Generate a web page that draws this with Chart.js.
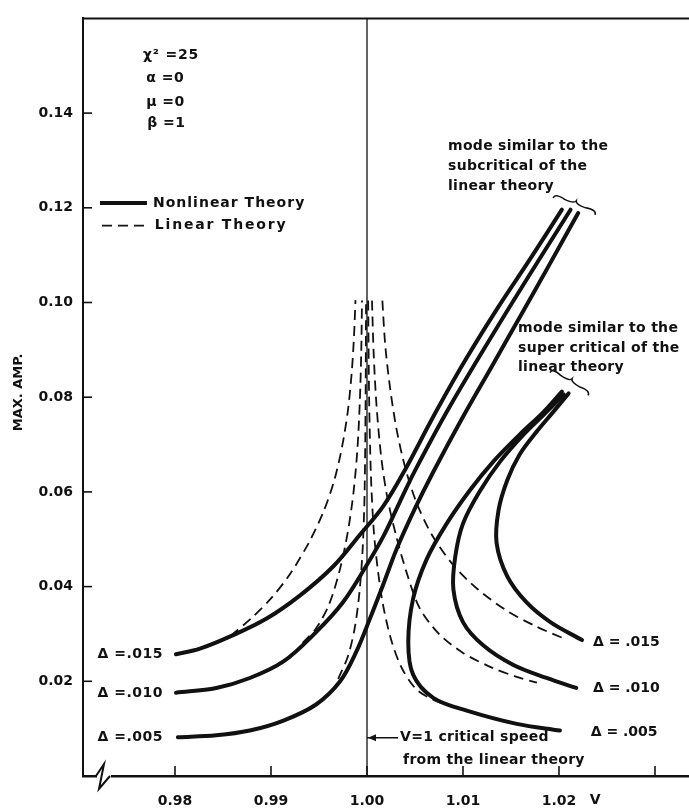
<!DOCTYPE html>
<html>
<head>
<meta charset="utf-8">
<script src="https://cdn.jsdelivr.net/npm/chart.js@4.4.1/dist/chart.umd.min.js"></script>
<style>
  html, body { margin: 0; padding: 0; background: #fff; }
</style>
</head>
<body>
<canvas id="amp-chart" width="689" height="811"></canvas>
<script>
// axis ticks
const xTickValues = [0.98, 0.99, 1.00, 1.01, 1.02, 1.03];
const xTickLabels = ['0.98', '0.99', '1.00', '1.01', '1.02', ''];
const yTickValues = [0, 0.02, 0.04, 0.06, 0.08, 0.10, 0.12, 0.14, 0.16];
const yTickLabels = ['', '0.02', '0.04', '0.06', '0.08', '0.10', '0.12', '0.14', ''];

// nonlinear theory, subcritical-like branch  [V, max amp]
const sub015 = [[0.9801, 0.0257], [0.9826, 0.0269], [0.9860, 0.0297], [0.9895, 0.0332], [0.9930, 0.0381], [0.9965, 0.0443], [0.9992, 0.0508], [1.0017, 0.0570], [1.0040, 0.0648], [1.0068, 0.0755], [1.0100, 0.0870], [1.0135, 0.0985], [1.0170, 0.1092], [1.0203, 0.1196]];
const sub010 = [[0.9801, 0.0176], [0.9843, 0.0186], [0.9878, 0.0207], [0.9913, 0.0242], [0.9947, 0.0304], [0.9975, 0.0367], [0.9999, 0.0443], [1.0017, 0.0506], [1.0034, 0.0578], [1.0050, 0.0645], [1.0087, 0.0783], [1.0149, 0.0992], [1.0212, 0.1196]];
const sub005 = [[0.9803, 0.0082], [0.9843, 0.0086], [0.9878, 0.0096], [0.9913, 0.0117], [0.9947, 0.0151], [0.9972, 0.0200], [0.9989, 0.0263], [1.0003, 0.0332], [1.0017, 0.0405], [1.0031, 0.0480], [1.0050, 0.0565], [1.0069, 0.0642], [1.0099, 0.0755], [1.0130, 0.0865], [1.0160, 0.0972], [1.0190, 0.1080], [1.0220, 0.1189]];

// nonlinear theory, supercritical-like branch
const sup015 = [[1.0224, 0.0287], [1.0191, 0.0325], [1.0166, 0.0367], [1.0146, 0.0422], [1.0135, 0.0492], [1.0137, 0.0561], [1.0146, 0.0624], [1.0159, 0.0679], [1.0177, 0.0728], [1.0194, 0.0769], [1.0210, 0.0808]];
const sup010 = [[1.0218, 0.0186], [1.0187, 0.0207], [1.0152, 0.0235], [1.0121, 0.0276], [1.0100, 0.0325], [1.0090, 0.0394], [1.0092, 0.0464], [1.0100, 0.0533], [1.0118, 0.0603], [1.0139, 0.0665], [1.0163, 0.0721], [1.0184, 0.0763], [1.0205, 0.0806]];
const sup005 = [[1.0201, 0.0096], [1.0156, 0.0110], [1.0104, 0.0138], [1.0069, 0.0165], [1.0048, 0.0214], [1.0043, 0.0283], [1.0048, 0.0374], [1.0062, 0.0457], [1.0083, 0.0533], [1.0107, 0.0603], [1.0132, 0.0665], [1.0159, 0.0721], [1.0184, 0.0769], [1.0203, 0.0812]];

// linear theory (dashed), left and right of V = 1
const lin015L = [[0.9858, 0.0296], [0.9880, 0.0334], [0.9900, 0.0375], [0.9920, 0.0427], [0.9940, 0.0495], [0.9955, 0.0560], [0.9966, 0.0625], [0.9974, 0.0695], [0.9980, 0.0770], [0.9984, 0.0850], [0.99865, 0.0930], [0.99880, 0.1005]];
const lin010L = [[0.9933, 0.0281], [0.9947, 0.0312], [0.9960, 0.0360], [0.9971, 0.0430], [0.9980, 0.0515], [0.9986, 0.0600], [0.9990, 0.0690], [0.99925, 0.0790], [0.99940, 0.0895], [0.99948, 0.1004]];
const lin005L = [[0.9970, 0.0205], [0.9980, 0.0252], [0.9987, 0.0310], [0.9992, 0.0385], [0.99955, 0.0480], [0.99975, 0.0600], [0.99985, 0.0780], [0.99990, 0.1004]];
const lin005R = [[1.00012, 0.1004], [1.00022, 0.0800], [1.00040, 0.0640], [1.00070, 0.0520], [1.0011, 0.0440], [1.0017, 0.0358], [1.0026, 0.0282], [1.0037, 0.0225], [1.0052, 0.0182], [1.0070, 0.0160], [1.0090, 0.0146], [1.0108, 0.0136]];
const lin010R = [[1.00052, 0.1004], [1.0007, 0.0890], [1.0010, 0.0780], [1.0015, 0.0670], [1.0021, 0.0590], [1.0030, 0.0510], [1.0042, 0.0425], [1.0055, 0.0354], [1.0075, 0.0300], [1.0100, 0.0260], [1.0130, 0.0229], [1.0155, 0.0210], [1.0177, 0.0197]];
const lin015R = [[1.0016, 0.1004], [1.0019, 0.0910], [1.0024, 0.0820], [1.0031, 0.0730], [1.0040, 0.0650], [1.0052, 0.0575], [1.0068, 0.0508], [1.0090, 0.0445], [1.0115, 0.0395], [1.0145, 0.0350], [1.0175, 0.0317], [1.0208, 0.0288]];

// critical speed from the linear theory
const criticalLine = [[1.0, 0], [1.0, 0.16]];

const INK = '#111';
const FONT = '"DejaVu Sans", sans-serif';
const toXY = arr => arr.map(([x, y]) => ({ x, y }));

const solid = data => ({
    data: toXY(data), showLine: true, borderColor: INK, borderWidth: 4,
    pointRadius: 0, tension: 0.35, borderCapStyle: 'round', borderJoinStyle: 'round'
});
const dashed = data => ({
    data: toXY(data), showLine: true, borderColor: INK, borderWidth: 1.8,
    borderDash: [10, 6], pointRadius: 0, tension: 0.3
});

function drawBrace(ctx, x1, y1, x2, y2, h) {
    // curly brace from (x1,y1) to (x2,y2) bulging to the left of the direction
    const dx = x2 - x1, dy = y2 - y1, len = Math.hypot(dx, dy);
    const nx = dy / len * h, ny = -dx / len * h;
    const mx = (x1 + x2) / 2, my = (y1 + y2) / 2;
    ctx.beginPath();
    ctx.moveTo(x1, y1);
    ctx.quadraticCurveTo(x1 + nx * 0.9, y1 + ny * 0.9, x1 + dx * 0.25 + nx * 0.5, y1 + dy * 0.25 + ny * 0.5);
    ctx.quadraticCurveTo(mx - dx * 0.02 + nx * 0.4, my - dy * 0.02 + ny * 0.4, mx + nx, my + ny);
    ctx.quadraticCurveTo(mx + dx * 0.02 + nx * 0.4, my + dy * 0.02 + ny * 0.4, x2 - dx * 0.25 + nx * 0.5, y2 - dy * 0.25 + ny * 0.5);
    ctx.quadraticCurveTo(x2 + nx * 0.9, y2 + ny * 0.9, x2, y2);
    ctx.stroke();
}

const notesPlugin = {
    id: 'notes',
    afterDraw(chart) {
        const { ctx, chartArea: area, scales: { x, y } } = chart;
        const X = v => x.getPixelForValue(v);
        const Y = a => y.getPixelForValue(a);
        ctx.save();
        ctx.strokeStyle = INK;
        ctx.fillStyle = INK;

        // top frame
        ctx.lineWidth = 2;
        ctx.beginPath();
        ctx.moveTo(area.left - 1, area.top);
        ctx.lineTo(area.right, area.top);
        ctx.stroke();

        // inward tick marks
        ctx.lineWidth = 1.6;
        xTickValues.forEach(v => {
            ctx.beginPath();
            ctx.moveTo(X(v), area.bottom);
            ctx.lineTo(X(v), area.bottom - 10);
            ctx.stroke();
        });
        yTickValues.slice(1, -1).forEach(v => {
            ctx.beginPath();
            ctx.moveTo(area.left, Y(v));
            ctx.lineTo(area.left + 9, Y(v));
            ctx.stroke();
        });

        // axis break on the V axis
        ctx.fillStyle = '#fff';
        ctx.fillRect(area.left + 14, area.bottom - 3, 14, 6);
        ctx.fillStyle = INK;
        ctx.lineWidth = 2;
        ctx.beginPath();
        ctx.moveTo(area.left + 13, area.bottom);
        ctx.lineTo(area.left + 21, area.bottom - 12);
        ctx.lineTo(area.left + 16, area.bottom + 13);
        ctx.lineTo(area.left + 27, area.bottom);
        ctx.stroke();

        ctx.textBaseline = 'middle';
        const text = (str, v, a, align = 'left', size = 14, spacing = '0px') => {
            ctx.font = 'bold ' + size + 'px ' + FONT;
            ctx.letterSpacing = spacing;
            ctx.textAlign = align;
            ctx.fillText(str, X(v), Y(a));
        };

        // parameters
        text('χ² =25', 0.97667, 0.1523, 'left', 14, '0.8px');
        text('α =0', 0.97700, 0.1473, 'left', 14, '0.5px');
        text('μ =0', 0.97700, 0.1423, 'left', 14, '0.5px');
        text('β =1', 0.97710, 0.1379, 'left', 14, '0.5px');

        // legend
        ctx.lineWidth = 4;
        ctx.beginPath();
        ctx.moveTo(X(0.97219), Y(0.12104));
        ctx.lineTo(X(0.97708), Y(0.12104));
        ctx.stroke();
        ctx.lineWidth = 1.8;
        ctx.setLineDash([10, 6]);
        ctx.beginPath();
        ctx.moveTo(X(0.97240), Y(0.11625));
        ctx.lineTo(X(0.97708), Y(0.11625));
        ctx.stroke();
        ctx.setLineDash([]);
        text('Nonlinear Theory', 0.97771, 0.12104, 'left', 14, '1px');
        text('Linear Theory', 0.97790, 0.11625, 'left', 14, '1.8px');

        // mode notes and braces
        text('mode similar to the', 1.00844, 0.1329, 'left', 14, '0.3px');
        text('subcritical of the', 1.00844, 0.1288, 'left', 14, '0.3px');
        text('linear theory', 1.00844, 0.1246, 'left', 14, '0.3px');
        text('mode similar to the', 1.01573, 0.0946, 'left', 14, '0.3px');
        text('super critical of the', 1.01573, 0.0904, 'left', 14, '0.3px');
        text('linear theory', 1.01573, 0.0863, 'left', 14, '0.3px');
        ctx.lineWidth = 1.5;
        drawBrace(ctx, X(1.01938), Y(0.1221), X(1.02375), Y(0.1185), 6);
        drawBrace(ctx, X(1.01906), Y(0.0852), X(1.02302), Y(0.0804), 6);

        // delta labels
        text('Δ =.015', 0.97875, 0.0256, 'right', 14, '0.5px');
        text('Δ =.010', 0.97875, 0.0175, 'right', 14, '0.5px');
        text('Δ =.005', 0.97875, 0.0081, 'right', 14, '0.5px');
        text('Δ = .015', 1.02354, 0.0283);
        text('Δ = .010', 1.02354, 0.0185);
        text('Δ = .005', 1.02330, 0.0092);

        // critical speed note
        ctx.lineWidth = 1.5;
        ctx.beginPath();
        ctx.moveTo(X(1.00323), Y(0.0081));
        ctx.lineTo(X(1.0), Y(0.0081));
        ctx.stroke();
        ctx.beginPath();
        ctx.moveTo(X(1.0) + 1, Y(0.0081));
        ctx.lineTo(X(1.0) + 9, Y(0.0081) - 3.5);
        ctx.lineTo(X(1.0) + 9, Y(0.0081) + 3.5);
        ctx.closePath();
        ctx.fill();
        text('V=1 critical speed', 1.00344, 0.0081, 'left', 14, '0.3px');
        text('from the linear theory', 1.00375, 0.0033, 'left', 14, '0.3px');

        // axis names
        ctx.font = 'bold 14px ' + FONT;
        ctx.letterSpacing = '0px';
        ctx.textAlign = 'left';
        ctx.fillText('V', X(1.0232), area.bottom + 24);
        ctx.save();
        ctx.translate(19, Y(0.081));
        ctx.rotate(-Math.PI / 2);
        ctx.textAlign = 'center';
        ctx.font = 'bold 13px ' + FONT;
        ctx.fillText('MAX. AMP.', 0, 0);
        ctx.restore();

        ctx.restore();
    }
};

new Chart(document.getElementById('amp-chart').getContext('2d'), {
    type: 'scatter',
    data: {
        datasets: [
            dashed(lin015L), dashed(lin010L), dashed(lin005L),
            dashed(lin005R), dashed(lin010R), dashed(lin015R),
            { data: toXY(criticalLine), showLine: true, borderColor: INK, borderWidth: 1.3, pointRadius: 0 },
            solid(sub015), solid(sub010), solid(sub005),
            solid(sup015), solid(sup010), solid(sup005)
        ]
    },
    options: {
        responsive: false,
        animation: false,
        layout: { padding: { top: 8, right: 0, bottom: 0, left: 0 } },
        plugins: { legend: { display: false }, tooltip: { enabled: false } },
        scales: {
            x: {
                type: 'linear',
                min: 0.970417,
                max: 1.033542,
                afterFit: s => { s.height = 35; },
                afterBuildTicks: s => { s.ticks = xTickValues.map(v => ({ value: v })); },
                grid: { display: false, drawTicks: false },
                border: { display: true, color: INK, width: 2.5 },
                ticks: {
                    padding: 17, color: INK, maxRotation: 0, autoSkip: false,
                    font: { family: FONT, size: 14, weight: 'bold' },
                    callback: (v, i) => xTickLabels[i]
                }
            },
            y: {
                type: 'linear',
                min: 0,
                max: 0.16,
                afterFit: s => { s.width = 83; },
                afterBuildTicks: s => { s.ticks = yTickValues.map(v => ({ value: v })); },
                grid: { display: false, drawTicks: false },
                border: { display: true, color: INK, width: 2 },
                ticks: {
                    padding: 10, color: INK, autoSkip: false,
                    font: { family: FONT, size: 14, weight: 'bold' },
                    callback: (v, i) => yTickLabels[i]
                }
            }
        }
    },
    plugins: [notesPlugin]
});
</script>
</body>
</html>
